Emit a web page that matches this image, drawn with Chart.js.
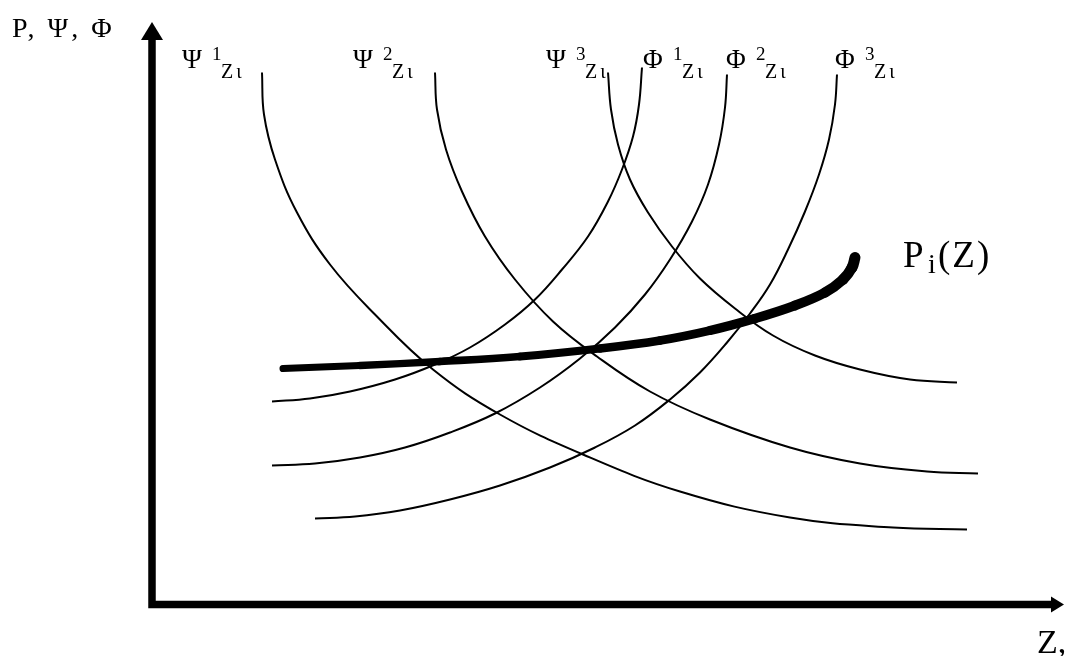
<!DOCTYPE html>
<html>
<head>
<meta charset="utf-8">
<title>P, Ψ, Φ (Z)</title>
<script src="https://cdn.jsdelivr.net/npm/chart.js@4.4.1/dist/chart.umd.min.js"></script>
<style>
    html, body { margin: 0; padding: 0; background: #fff; }
    #wrap { width: 1066px; height: 656px; }
</style>
</head>
<body>
<div id="wrap"><canvas id="sketch" width="1066" height="656"></canvas></div>
<script>
// Curves, Z along the bottom axis, value up the left axis
const psi1Z = [11.0, 11.2, 12.3, 14.5, 17.8, 22.3, 28.1, 34.8, 43.1, 52.8, 63.8, 74.1, 81.5];
const psi1V = [53.2, 49.0, 44.5, 39.2, 34.0, 29.0, 23.5, 19.0, 15.0, 11.3, 8.7, 7.7, 7.5];

const psi2Z = [28.3, 28.5, 29.4, 31.0, 33.3, 36.3, 40.1, 44.5, 49.8, 55.8, 63.8, 70.8, 77.5, 82.6];
const psi2V = [53.2, 49.5, 45.5, 41.3, 36.8, 32.5, 28.3, 24.8, 21.3, 18.5, 15.7, 14.1, 13.3, 13.1];

const psi3Z = [45.6, 45.9, 46.6, 47.8, 49.6, 52.0, 54.8, 58.3, 62.1, 66.3, 70.8, 75.8, 80.5];
const psi3V = [53.2, 49.5, 46.0, 42.5, 39.2, 35.8, 32.6, 29.6, 26.9, 24.9, 23.5, 22.5, 22.2];

const phi1Z = [12.0, 15.8, 19.8, 24.3, 28.3, 31.8, 35.3, 38.3, 41.0, 43.6, 45.6, 47.0, 48.1, 48.7, 49.0];
const phi1V = [20.3, 20.6, 21.3, 22.5, 24.0, 25.7, 28.0, 30.5, 33.5, 36.8, 40.3, 43.5, 46.8, 50.0, 53.7];

const phi2Z = [12.0, 16.3, 20.8, 25.3, 29.8, 34.3, 38.8, 42.8, 46.3, 49.3, 51.8, 54.0, 55.6, 56.7, 57.3, 57.5];
const phi2V = [13.9, 14.1, 14.7, 15.7, 17.2, 19.1, 21.7, 24.6, 27.7, 31.0, 34.5, 38.3, 42.0, 46.0, 49.7, 53.0];

const phi3Z = [16.3, 20.3, 24.8, 29.8, 34.8, 39.8, 44.3, 48.3, 51.8, 54.8, 57.5, 59.8, 61.8, 63.6, 65.3, 66.7, 67.7, 68.3, 68.5];
const phi3V = [8.6, 8.8, 9.4, 10.5, 11.9, 13.7, 15.7, 17.9, 20.5, 23.2, 26.2, 29.1, 32.0, 35.5, 39.3, 43.0, 46.5, 50.0, 53.0];

const pZ = [13.1, 20.8, 28.8, 36.8, 44.8, 50.8, 55.8, 60.3, 64.3, 67.3, 69.1, 70.0, 70.3];
const pV = [23.6, 23.9, 24.3, 24.8, 25.6, 26.4, 27.4, 28.6, 29.9, 31.2, 32.5, 33.7, 34.7];

// curve names over the top ends: [main, superscript, Z at left]
const curveLabels = [
    ['Ψ', '1', 3.0],
    ['Ψ', '2', 20.1],
    ['Ψ', '3', 39.4],
    ['Φ', '1', 49.1],
    ['Φ', '2', 57.4],
    ['Φ', '3', 68.3]
];

function zip(xs, ys) {
    return xs.map((v, i) => ({ x: v, y: ys[i] }));
}

function thin(label, xs, ys) {
    return { label: label, data: zip(xs, ys), borderColor: '#000', borderWidth: 2, tension: 0.4 };
}

const axesAndText = {
    id: 'axesAndText',
    beforeDatasetsDraw(chart) {
        const { ctx, scales: { x, y } } = chart;
        const x0 = x.getPixelForValue(0);
        const y0 = y.getPixelForValue(0);
        const yTop = y.getPixelForValue(y.max);
        const xEnd = x.getPixelForValue(x.max);
        ctx.save();
        ctx.fillStyle = '#000';
        ctx.strokeStyle = '#000';
        ctx.lineWidth = 7.5;
        ctx.lineCap = 'butt';
        ctx.beginPath();
        ctx.moveTo(x0, y0 + 3.75);
        ctx.lineTo(x0, yTop + 14);
        ctx.moveTo(x0 - 3.75, y0);
        ctx.lineTo(xEnd - 9, y0);
        ctx.stroke();
        // arrow heads
        ctx.beginPath();
        ctx.moveTo(x0, yTop);
        ctx.lineTo(x0 + 11, yTop + 18);
        ctx.lineTo(x0 - 11, yTop + 18);
        ctx.closePath();
        ctx.fill();
        ctx.beginPath();
        ctx.moveTo(xEnd, y0);
        ctx.lineTo(xEnd - 13, y0 - 8);
        ctx.lineTo(xEnd - 13, y0 + 8);
        ctx.closePath();
        ctx.fill();
        ctx.restore();
    },
    afterDatasetsDraw(chart) {
        const { ctx, scales: { x, y } } = chart;
        const px = v => x.getPixelForValue(v);
        const py = v => y.getPixelForValue(v);
        const spacing = s => { if ('letterSpacing' in ctx) ctx.letterSpacing = s; };
        ctx.save();
        ctx.fillStyle = '#000';
        ctx.textBaseline = 'alphabetic';
        ctx.textAlign = 'left';
        const serif = '"Liberation Serif", "DejaVu Serif", serif';

        // axis names
        ctx.font = '28px ' + serif;
        spacing('3px');
        ctx.fillText('P, Ψ, Φ', px(-14.0), py(56.75));
        spacing('0px');
        ctx.font = '34px ' + serif;
        ctx.fillText('Z,', px(88.5), py(-4.85));

        // curve names
        curveLabels.forEach(([main, sup, z]) => {
            spacing('0px');
            ctx.font = '27px ' + serif;
            ctx.fillText(main, px(z), py(53.65));
            ctx.font = '19px ' + serif;
            ctx.fillText(sup, px(z + 3.0), py(54.45));
            spacing('3px');
            ctx.font = '20px ' + serif;
            ctx.fillText('Zι', px(z + 3.9), py(52.65));
        });

        // P_i(Z)
        spacing('0px');
        ctx.font = '37px ' + serif;
        ctx.fillText('P', px(75.1), py(33.75));
        ctx.font = '28px ' + serif;
        ctx.fillText('i', px(77.6), py(33.15));
        spacing('2px');
        ctx.font = '37px ' + serif;
        ctx.fillText('(Z)', px(78.6), py(33.75));
        ctx.restore();
    }
};

new Chart(document.getElementById('sketch'), {
    type: 'line',
    data: {
        datasets: [
            thin('Ψ1', psi1Z, psi1V),
            thin('Ψ2', psi2Z, psi2V),
            thin('Ψ3', psi3Z, psi3V),
            thin('Φ1', phi1Z, phi1V),
            thin('Φ2', phi2Z, phi2V),
            thin('Φ3', phi3Z, phi3V),
            {
                label: 'Pi(Z)',
                data: zip(pZ, pV),
                borderColor: '#000',
                borderWidth: 7,
                borderCapStyle: 'round',
                borderJoinStyle: 'round',
                tension: 0.4,
                segment: {
                    // the heavy line gets a bit thicker toward its upper end
                    borderWidth: ctx => 7 + 4 * ctx.p0DataIndex / (pZ.length - 2)
                }
            }
        ]
    },
    options: {
        responsive: false,
        animation: false,
        layout: { padding: { left: 152, right: 2, top: 22, bottom: 51.5 } },
        scales: {
            x: { type: 'linear', display: false, min: 0, max: 91.2 },
            y: { type: 'linear', display: false, min: 0, max: 58.25 }
        },
        elements: { point: { radius: 0 } },
        plugins: {
            legend: { display: false },
            tooltip: { enabled: false }
        }
    },
    plugins: [axesAndText]
});
</script>
</body>
</html>
